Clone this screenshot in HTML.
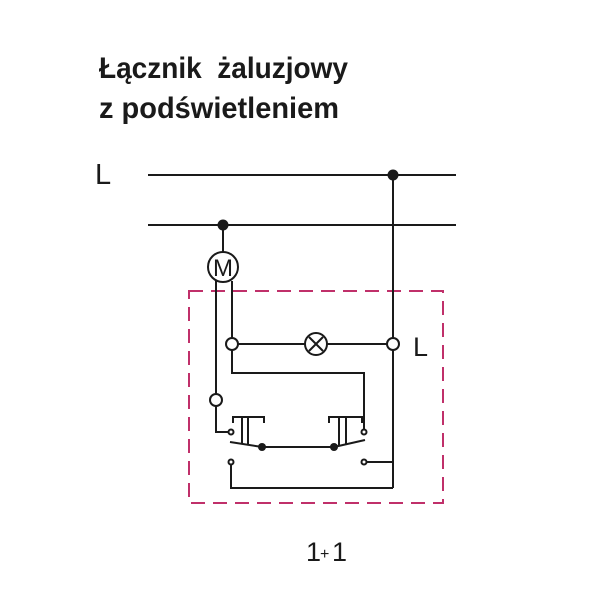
<!DOCTYPE html>
<html><head><style>html,body{margin:0;padding:0;background:#fff}</style></head><body>
<svg width="610" height="600" viewBox="0 0 610 600" xmlns="http://www.w3.org/2000/svg">
<g font-family="Liberation Sans, sans-serif" fill="#1a1a1a">
<text x="99" y="78" font-size="30" font-weight="bold" textLength="249" lengthAdjust="spacingAndGlyphs">Łącznik&#160; żaluzjowy</text>
<text x="99" y="118" font-size="30" font-weight="bold" textLength="240" lengthAdjust="spacingAndGlyphs">z podświetleniem</text>
<text x="95" y="184" font-size="29">L</text>
<text x="413" y="356" font-size="27">L</text>
<text x="306" y="561" font-size="27">1</text>
<text x="320" y="559" font-size="16">+</text>
<text x="332" y="561" font-size="27">1</text>
<text x="223" y="276" font-size="24" text-anchor="middle">M</text>
</g>
<rect x="189" y="291" width="254" height="212" fill="none" stroke="#c0306a" stroke-width="2" stroke-dasharray="14,8"/>
<g stroke="#1a1a1a" stroke-width="2" fill="none">
<line x1="148" y1="175" x2="456" y2="175"/>
<line x1="148" y1="225" x2="456" y2="225"/>
<line x1="393" y1="175" x2="393" y2="488"/>
<line x1="223" y1="225" x2="223" y2="252"/>
<circle cx="223" cy="267" r="15"/>
<polyline points="216,281 216,394"/>
<circle cx="216" cy="400" r="6" fill="#fff"/>
<polyline points="216,406 216,432 228,432"/>
<line x1="232" y1="281" x2="232" y2="338"/>
<circle cx="232" cy="344" r="6" fill="#fff"/>
<line x1="238" y1="344" x2="305" y2="344"/>
<circle cx="316" cy="344" r="11" fill="#fff"/>
<line x1="309" y1="337" x2="323" y2="351"/>
<line x1="323" y1="337" x2="309" y2="351"/>
<line x1="327" y1="344" x2="387" y2="344"/>
<circle cx="393" cy="344" r="6" fill="#fff"/>
<polyline points="232,350 232,373 364,373 364,429"/>
<circle cx="231" cy="432" r="2.5" fill="#fff"/>
<circle cx="364" cy="432" r="2.5" fill="#fff"/>
<line x1="230" y1="442" x2="262" y2="447"/>
<line x1="262" y1="447" x2="334" y2="447"/>
<line x1="334" y1="447" x2="365" y2="440"/>
<polyline points="233,423 233,417 264,417 264,423"/>
<line x1="242" y1="417" x2="242" y2="444"/>
<line x1="248" y1="417" x2="248" y2="445"/>
<polyline points="329,423 329,417 362,417 362,423"/>
<line x1="339" y1="417" x2="339" y2="446"/>
<line x1="346" y1="417" x2="346" y2="445"/>
<circle cx="231" cy="462" r="2.5" fill="#fff"/>
<circle cx="364" cy="462" r="2.5" fill="#fff"/>
<line x1="367" y1="462" x2="393" y2="462"/>
<polyline points="231,465 231,488 393,488"/>
</g>
<g fill="#1a1a1a">
<circle cx="393" cy="175" r="5.5"/>
<circle cx="223" cy="225" r="5.5"/>
<circle cx="262" cy="447" r="4"/>
<circle cx="334" cy="447" r="4"/>
</g>
</svg>
</body></html>
